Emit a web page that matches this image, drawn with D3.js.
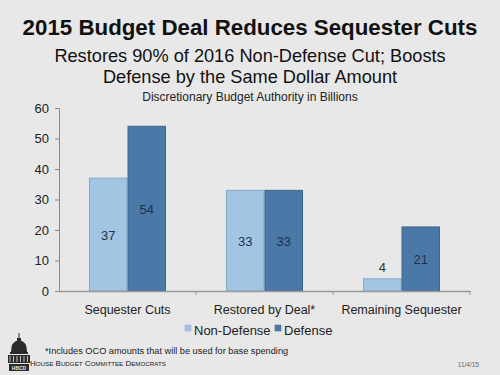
<!DOCTYPE html>
<html>
<head>
<meta charset="utf-8">
<script src="https://cdn.jsdelivr.net/npm/d3@7"></script>
<style>
  html, body { margin: 0; padding: 0; background: #e8e8e8; }
  svg { display: block; }
</style>
</head>
<body>
<div id="chart"></div>
<script>
// Data
const categories = ["Sequester Cuts", "Restored by Deal*", "Remaining Sequester"];
const series = ["Non-Defense", "Defense"];
const nonDefense = [37, 33, 4];
const defense = [54, 33, 21];
const yTicks = [0, 10, 20, 30, 40, 50, 60];

const colors = { "Non-Defense": "#a2c5e4", "Defense": "#4b79a7" };
const strokes = { "Non-Defense": "#86a9c8", "Defense": "#3b6690" };

window.onload = function () {
  const W = 500, H = 375;
  const font = "'Liberation Sans', Arial, sans-serif";

  const svg = d3.select("#chart").append("svg")
    .attr("width", W).attr("height", H)
    .style("background", "#e8e8e8")
    .style("font-family", font);

  // Titles
  svg.append("text").attr("x", 250).attr("y", 35)
    .attr("text-anchor", "middle")
    .style("font-size", "22.3px").style("font-weight", "700").style("fill", "#111")
    .text("2015 Budget Deal Reduces Sequester Cuts");
  svg.append("text").attr("x", 250).attr("y", 62)
    .attr("text-anchor", "middle")
    .style("font-size", "18.2px").style("fill", "#111")
    .text("Restores 90% of 2016 Non-Defense Cut; Boosts");
  svg.append("text").attr("x", 250).attr("y", 83)
    .attr("text-anchor", "middle")
    .style("font-size", "18.2px").style("fill", "#111")
    .text("Defense by the Same Dollar Amount");
  svg.append("text").attr("x", 250).attr("y", 101)
    .attr("text-anchor", "middle")
    .style("font-size", "12px").style("fill", "#222")
    .text("Discretionary Budget Authority in Billions");

  // Scales
  const x0 = d3.scaleBand().domain(categories).range([59, 470]).padding(0);
  const x1 = d3.scaleBand().domain(series).range([30, 107]).padding(0);
  const y = d3.scaleLinear().domain([0, 60]).range([291, 108]);

  const rows = categories.map((c, i) => ({
    cat: c,
    vals: [
      { key: "Non-Defense", value: nonDefense[i] },
      { key: "Defense", value: defense[i] },
    ],
  }));

  // Bars
  const groups = svg.selectAll("g.cat").data(rows).enter().append("g")
    .attr("class", "cat")
    .attr("transform", (d) => `translate(${x0(d.cat)},0)`);

  groups.selectAll("rect").data((d) => d.vals).enter().append("rect")
    .attr("x", (d) => x1(d.key) + 0.5)
    .attr("width", x1.bandwidth() - 1)
    .attr("y", (d) => y(d.value))
    .attr("height", (d) => y(0) - y(d.value))
    .attr("fill", (d) => colors[d.key])
    .attr("stroke", (d) => strokes[d.key])
    .attr("stroke-width", 1);

  // Value labels
  groups.selectAll("text.val").data((d) => d.vals).enter().append("text")
    .attr("class", "val")
    .attr("x", (d) => x1(d.key) + x1.bandwidth() / 2)
    .attr("y", (d) => d.value < 8 ? y(d.value) - 7 : (y(d.value) + y(0)) / 2 + 5)
    .attr("text-anchor", "middle")
    .style("font-size", "13px")
    .style("fill", (d) => d.value < 8 ? "#333" : "#1c3150")
    .text((d) => d.value);

  // Y axis
  const yAxis = svg.append("g")
    .attr("transform", "translate(59,0)")
    .call(d3.axisLeft(y).tickValues(yTicks).tickSize(4).tickPadding(6));
  yAxis.select(".domain").attr("stroke", "#888");
  yAxis.selectAll(".tick line").attr("stroke", "#888");
  yAxis.selectAll("text").style("font-size", "13px").style("fill", "#222")
    .style("font-family", font);

  // X axis
  const xAxis = svg.append("g")
    .attr("transform", "translate(0,291)")
    .call(d3.axisBottom(x0).tickSize(0).tickPadding(14));
  xAxis.select(".domain").attr("stroke", "#999").attr("stroke-width", 1.5);
  xAxis.selectAll("text").style("font-size", "12.5px").style("fill", "#222")
    .style("font-family", font);
  // category separator ticks
  svg.append("g").selectAll("line")
    .data(categories.slice(1).map((c) => x0(c)).concat([x0.range()[1]]))
    .enter().append("line")
    .attr("x1", (d) => d).attr("x2", (d) => d)
    .attr("y1", 291).attr("y2", 295)
    .attr("stroke", "#999");

  // Legend
  const legend = svg.append("g");
  const legendX = [185, 275];
  series.forEach((s, i) => {
    legend.append("rect")
      .attr("x", legendX[i]).attr("y", 325)
      .attr("width", 6).attr("height", 6)
      .attr("fill", colors[s]).attr("stroke", strokes[s]).attr("stroke-width", 0.5);
    legend.append("text")
      .attr("x", legendX[i] + 9).attr("y", 335)
      .style("font-size", "13px").style("fill", "#222")
      .text(s);
  });

  // Footnote
  svg.append("text").attr("x", 45).attr("y", 354)
    .style("font-size", "9.2px").style("fill", "#222")
    .text("*Includes OCO amounts that will be used for base spending");

  // Logo text (small caps)
  const org = svg.append("text").attr("x", 30).attr("y", 366)
    .style("font-size", "7px").style("fill", "#222");
  ["House", "Budget", "Committee", "Democrats"].forEach((w, i) => {
    org.append("tspan").style("font-size", "8px").text((i ? " " : "") + w[0]);
    org.append("tspan").style("font-size", "6.2px").text(w.slice(1).toUpperCase());
  });

  svg.append("text").attr("x", 479).attr("y", 367)
    .attr("text-anchor", "end")
    .style("font-size", "6.5px").style("fill", "#666")
    .text("11/4/15");

  // Capitol logo
  const logo = svg.append("g").attr("fill", "#2a2a2a").attr("stroke", "none");
  logo.append("rect").attr("x", 18.5).attr("y", 333).attr("width", 1).attr("height", 5);
  logo.append("rect").attr("x", 17).attr("y", 338).attr("width", 4).attr("height", 3);
  logo.append("path").attr("d", "M11,352 Q11,341 19,340 Q27,341 27,352 Z");
  logo.append("rect").attr("x", 10).attr("y", 352).attr("width", 18).attr("height", 2);
  logo.append("rect").attr("x", 8).attr("y", 355).attr("width", 22).attr("height", 8);
  logo.selectAll("line.col").data(d3.range(6)).enter().append("line")
    .attr("x1", (d) => 10 + d * 3.5).attr("x2", (d) => 10 + d * 3.5)
    .attr("y1", 356).attr("y2", 362)
    .attr("stroke", "#e8e8e8").attr("stroke-width", 0.8);
  logo.append("rect").attr("x", 9).attr("y", 364).attr("width", 20).attr("height", 7);
  logo.append("text").attr("x", 19).attr("y", 370)
    .attr("text-anchor", "middle")
    .style("font-size", "5px").style("font-weight", "700").style("fill", "#e8e8e8")
    .text("HBCD");
};
</script>
</body>
</html>
